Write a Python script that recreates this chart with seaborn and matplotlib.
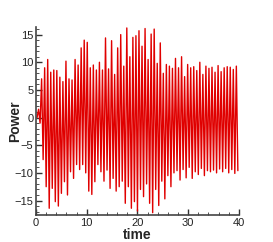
import numpy as np
import pandas as pd
import matplotlib
matplotlib.use("Agg")
import matplotlib.pyplot as plt
import seaborn as sns
from matplotlib.ticker import MultipleLocator

# Peak values of each oscillation cycle (upper / lower)
power_max = [1.5, 7.0, 9.0, 10.5, 8.2, 8.6, 8.5, 7.3, 6.5, 10.2, 7.0, 6.8, 10.5, 9.5,
             12.6, 14.0, 13.6, 9.0, 9.5, 8.6, 10.0, 8.6, 14.4, 8.8, 13.9, 7.8, 12.6, 15.0,
             9.3, 16.2, 11.0, 14.5, 14.8, 15.7, 12.9, 16.1, 10.5, 15.1, 16.0, 9.8, 13.5,
             8.0, 9.6, 9.3, 8.9, 10.7, 9.0, 11.0, 7.4, 9.6, 9.0, 9.2, 8.5, 10.0, 7.8, 9.3,
             8.9, 9.1, 8.2, 9.4, 8.3, 9.0, 9.2, 9.1, 8.7, 9.3]
power_min = [-1.0, -7.6, -12.5, -16.4, -12.8, -15.2, -16.0, -13.7, -11.6, -14.0, -9.8,
             -11.0, -8.5, -9.4, -8.5, -10.0, -13.3, -13.9, -11.6, -8.5, -9.8, -11.5, -9.5,
             -12.8, -11.0, -13.3, -12.5, -11.5, -15.5, -12.5, -16.4, -15.2, -16.9, -13.0,
             -14.3, -12.0, -15.5, -17.2, -13.0, -15.9, -11.5, -14.7, -10.5, -12.5, -10.0,
             -9.6, -11.3, -9.4, -10.9, -9.0, -11.0, -9.8, -10.3, -9.2, -10.5, -9.6, -9.8,
             -9.5, -10.0, -9.3, -9.8, -9.2, -10.0, -9.4, -10.1, -9.6]
t_start, t_end = 0.5, 39.8

power = np.column_stack([power_max, power_min]).ravel()
time = np.linspace(t_start, t_end, len(power))
df = pd.DataFrame({"time": np.r_[0.2, time], "Power": np.r_[0.0, power]})

sns.set_style("ticks")
plt.rcParams["font.family"] = ["Liberation Sans", "DejaVu Sans"]

fig = plt.figure(figsize=(2.73, 2.42), dpi=100)
ax = fig.add_axes([0.132, 0.112, 0.743, 0.777])
sns.lineplot(data=df, x="time", y="Power", color="#e00000", lw=1.0,
             estimator=None, sort=False, ax=ax)

ax.set_xlim(0, 40)
ax.set_ylim(-17.6, 16.4)
ax.xaxis.set_major_locator(MultipleLocator(10))
ax.xaxis.set_minor_locator(MultipleLocator(2))
ax.yaxis.set_major_locator(MultipleLocator(5))
ax.yaxis.set_minor_locator(MultipleLocator(1))
ax.tick_params(which="both", direction="in", colors="#333333", labelcolor="#222222",
               labelsize=8, pad=2)
ax.tick_params(which="major", length=4, width=1)
ax.tick_params(which="minor", length=2, width=0.6)
for s in ["top", "right"]:
    ax.spines[s].set_visible(False)
for s in ["left", "bottom"]:
    ax.spines[s].set_color("#444444")
    ax.spines[s].set_linewidth(1.2)

ax.set_xlabel("time", fontsize=10, fontweight="bold")
ax.set_ylabel("Power", fontsize=10, fontweight="bold")
ax.xaxis.set_label_coords(0.5, -0.108)
ax.xaxis.label.set_verticalalignment("center")
ax.yaxis.set_label_coords(-0.105, 0.5)
ax.yaxis.label.set_verticalalignment("center")

fig.savefig("out.png", dpi=100)
